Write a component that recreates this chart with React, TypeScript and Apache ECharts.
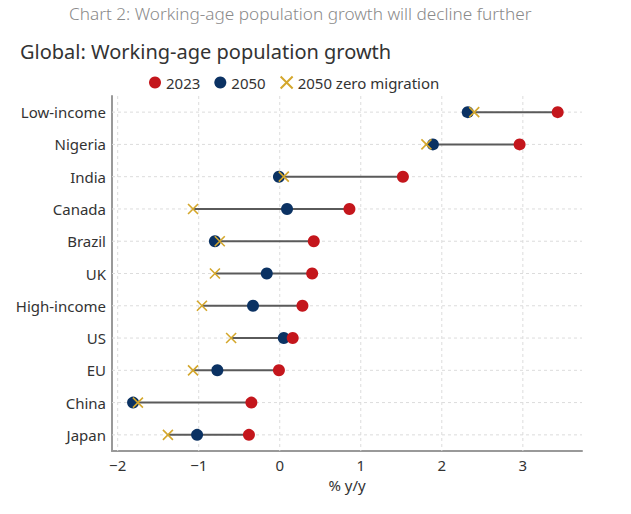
import React, { useEffect, useRef } from "react";
import * as echarts from "echarts";

const categories = ["Low-income", "Nigeria", "India", "Canada", "Brazil", "UK", "High-income", "US", "EU", "China", "Japan"];
const values2023 = [3.43, 2.96, 1.52, 0.86, 0.42, 0.4, 0.28, 0.16, -0.01, -0.35, -0.38];
const values2050 = [2.32, 1.89, -0.01, 0.09, -0.8, -0.16, -0.33, 0.05, -0.77, -1.81, -1.02];
const valuesZeroMig = [2.4, 1.81, 0.05, -1.07, -0.74, -0.8, -0.96, -0.6, -1.07, -1.75, -1.38];
const xTicks = [-2, -1, 0, 1, 2, 3];

const FONT = "'Noto Sans', 'Open Sans', sans-serif";
const CROSS = "path://M0,0L10,10M10,0L0,10";

export default function App() {
  const ref = useRef<HTMLDivElement>(null);
  useEffect(() => {
    if (!ref.current) return;
    const chart = echarts.init(ref.current, undefined, { renderer: "svg" });
    const ranges = categories.map((_, i) => {
      const vs = [values2023[i], values2050[i], valuesZeroMig[i]];
      return [i, Math.min(...vs), Math.max(...vs)];
    });
    chart.setOption({
      animation: false,
      textStyle: { fontFamily: FONT },
      title: [
        {
          text: "Chart 2: Working-age population growth will decline further",
          left: 64,
          top: 0,
          textStyle: { fontFamily: FONT, fontSize: 17.2, fontWeight: 300, color: "#8a8a8a" },
        },
        {
          text: "Global: Working-age population growth",
          left: 15,
          top: 36,
          textStyle: { fontFamily: FONT, fontSize: 20, fontWeight: 400, color: "#333" },
        },
      ],
      legend: {
        top: 70,
        left: 144,
        itemWidth: 12,
        itemHeight: 12,
        itemGap: 14,
        textStyle: { fontFamily: FONT, fontSize: 15, color: "#333" },
        data: [
          { name: "2023", icon: "circle" },
          { name: "2050", icon: "circle" },
          { name: "2050 zero migration", icon: CROSS },
        ],
      },
      grid: { left: 112, right: 49, top: 96, bottom: 63, containLabel: false },
      xAxis: {
        type: "value",
        min: -2.07,
        max: 3.73,
        name: "% y/y",
        nameLocation: "middle",
        nameGap: 26,
        nameTextStyle: { fontFamily: FONT, fontSize: 15, color: "#333" },
        axisLine: { show: true, onZero: false, lineStyle: { color: "#999", width: 2 } },
        axisTick: { show: false },
        axisLabel: {
          fontFamily: FONT,
          fontSize: 15,
          color: "#333",
          margin: 6,
          customValues: xTicks,
          formatter: (v: number) => (v < 0 ? "\u2212" + Math.abs(v) : String(v)),
        },
        splitLine: { show: false },
      },
      yAxis: {
        type: "category",
        data: categories,
        inverse: true,
        axisLine: { show: true, onZero: false, lineStyle: { color: "#999", width: 2 } },
        axisTick: { show: false },
        axisLabel: { fontFamily: FONT, fontSize: 15, color: "#333", margin: 6 },
        splitLine: { show: false },
      },
      series: [
        {
          type: "custom",
          silent: true,
          z: 1,
          data: xTicks.map((t) => [t]),
          renderItem: (params: any, api: any) => {
            const x = api.coord([api.value(0), 0])[0];
            const cs = params.coordSys;
            return {
              type: "line",
              shape: { x1: x, y1: cs.y, x2: x, y2: cs.y + cs.height },
              style: { stroke: "#dcdcdc", lineWidth: 1, lineDash: [3, 3] },
            };
          },
        },
        {
          type: "custom",
          silent: true,
          z: 1,
          data: categories.map((_, i) => [i]),
          renderItem: (params: any, api: any) => {
            const cs = params.coordSys;
            const y = api.coord([0, api.value(0)])[1];
            return {
              type: "line",
              shape: { x1: cs.x, y1: y, x2: cs.x + cs.width, y2: y },
              style: { stroke: "#dcdcdc", lineWidth: 1, lineDash: [3, 3] },
            };
          },
        },
        {
          type: "custom",
          silent: true,
          z: 2,
          data: ranges,
          encode: { x: [1, 2], y: 0 },
          renderItem: (params: any, api: any) => {
            const a = api.coord([api.value(1), api.value(0)]);
            const b = api.coord([api.value(2), api.value(0)]);
            return {
              type: "line",
              shape: { x1: a[0], y1: a[1], x2: b[0], y2: b[1] },
              style: { stroke: "#5a5a5a", lineWidth: 2 },
            };
          },
        },
        {
          name: "2050",
          type: "scatter",
          z: 3,
          symbol: "circle",
          symbolSize: 12,
          itemStyle: { color: "#0b3263", opacity: 1 },
          data: values2050.map((v, i) => [v, categories[i]]),
        },
        {
          name: "2023",
          type: "scatter",
          z: 4,
          symbol: "circle",
          symbolSize: 12,
          itemStyle: { color: "#c4161c", opacity: 1 },
          data: values2023.map((v, i) => [v, categories[i]]),
        },
        {
          name: "2050 zero migration",
          type: "scatter",
          z: 5,
          symbol: CROSS,
          symbolSize: 10,
          itemStyle: { color: "transparent", borderColor: "#d4a72c", borderWidth: 1.6, opacity: 1 },
          data: valuesZeroMig.map((v, i) => [v, categories[i]]),
        },
      ],
    });
    return () => chart.dispose();
  }, []);
  return <div ref={ref} style={{ position: "absolute", left: 0, top: 0, width: 631, height: 514 }} />;
}
